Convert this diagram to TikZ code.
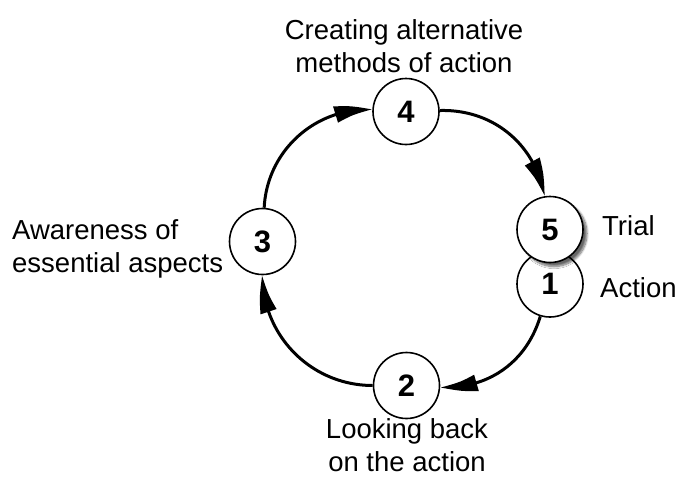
\documentclass[tikz,border=0pt]{standalone}
\usepackage{fontspec}
\setmainfont{Liberation Sans}
\usetikzlibrary{arrows.meta,bending,shadows.blur}
\definecolor{cyclecolor0}{RGB}{255,255,255}
\definecolor{cyclecolor1}{RGB}{0,0,0}

\begin{document}
\begin{tikzpicture}[yscale=-1
,stepnode/.style={circle,draw=cyclecolor1,fill=cyclecolor0,line width=1.6pt,minimum size=66pt,inner sep=0pt,font=\fontsize{31}{31}\selectfont\bfseries}
,labelnode/.style={inner sep=0pt,color=cyclecolor1,font=\fontsize{27.5}{33}\selectfont}
,cyclearrow/.style={draw=cyclecolor1,line width=3pt,-{Triangle[length=38pt,width=16pt,bend]}}
]
\useasboundingbox (0pt,0pt) rectangle (677pt,477pt);
\node[stepnode] (s4) at (406pt,111.5pt) {4};
\node[stepnode] (s3) at (262.5pt,241.5pt) {3};
\node[stepnode] (s2) at (406.5pt,385.5pt) {2};
\node[stepnode] (s1) at (550pt,284pt) {1};
\node[stepnode,blur shadow={shadow xshift=4pt,shadow yshift=-4pt,shadow blur steps=10,shadow opacity=60}] (s5) at (550pt,229.5pt) {5};
\node[labelnode,anchor=base,align=center] (l4) at (404pt,72pt) {Creating alternative\\methods of action};
\node[labelnode,anchor=base west,align=left] (l3) at (12pt,272pt) {Awareness of\\essential aspects};
\node[labelnode,anchor=base,align=center] (l2) at (407pt,471pt) {Looking back\\on the action};
\node[labelnode,anchor=base west] (l5) at (602pt,235pt) {Trial};
\node[labelnode,anchor=base west] (l1) at (600pt,297pt) {Action};
\draw[cyclearrow] (s1) to[bend right=38] (s2);
\draw[cyclearrow] (s2) to[bend right=45] (s3);
\draw[cyclearrow] (s3) to[bend right=45] (s4);
\draw[cyclearrow] (s4) to[bend right=41] (s5);
\end{tikzpicture}
\end{document}
